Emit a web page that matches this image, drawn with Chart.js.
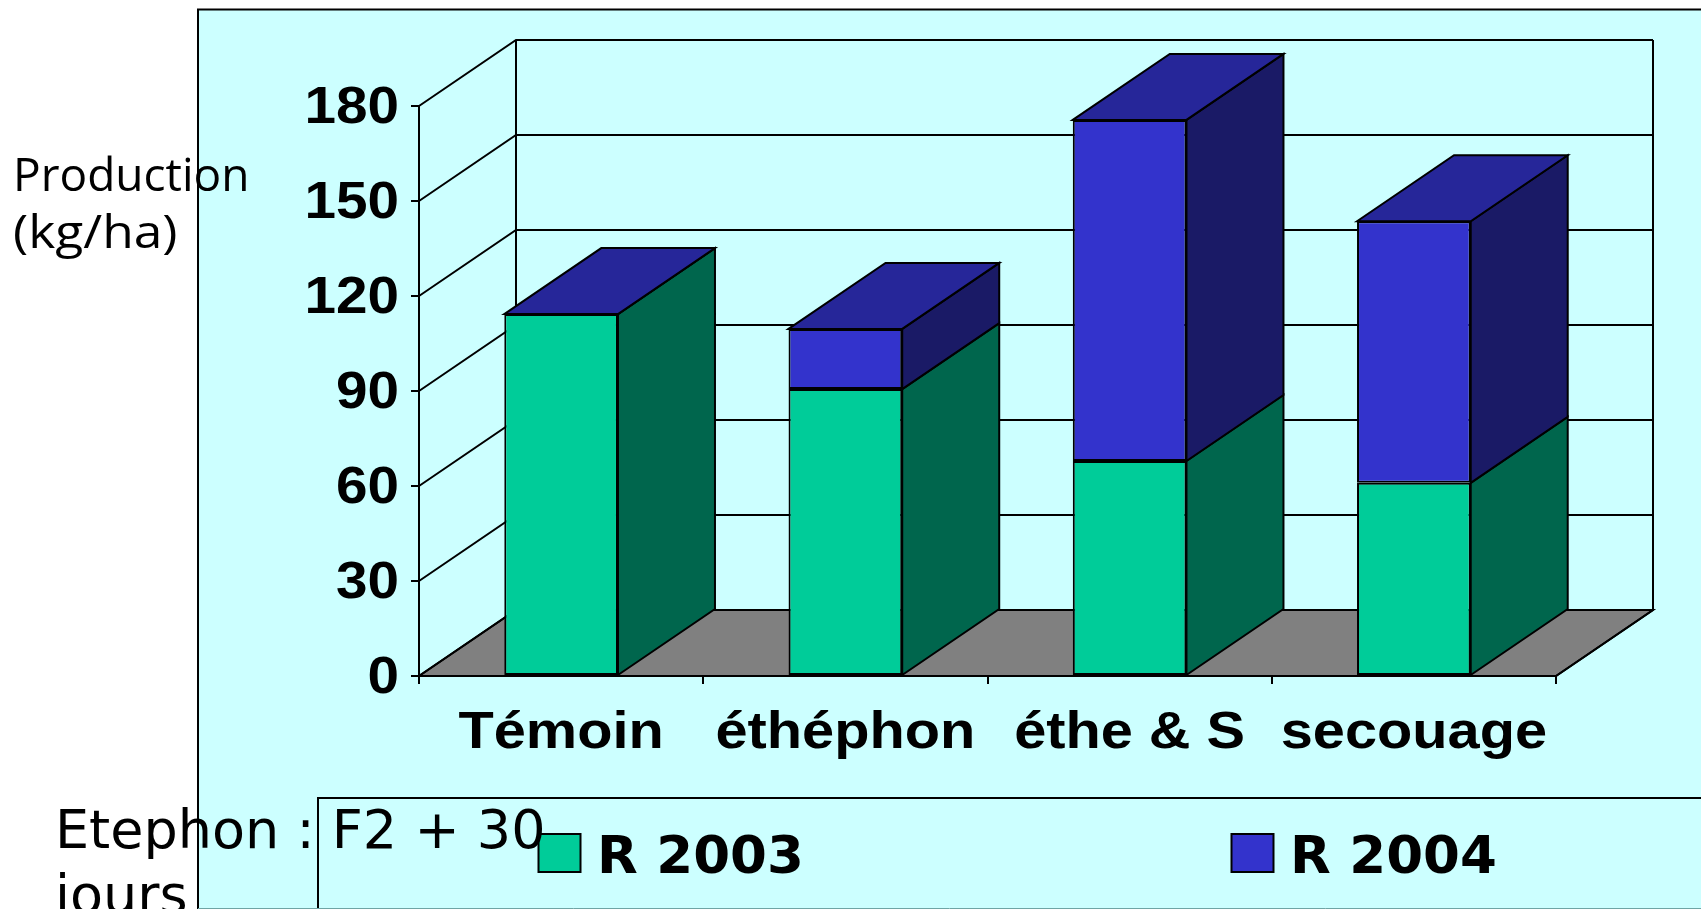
<!DOCTYPE html>
<html><head><meta charset="utf-8">
<style>html,body{margin:0;padding:0;background:#fff;overflow:hidden}canvas{display:block}</style>
<script src="https://cdn.jsdelivr.net/npm/chart.js@4"></script>
</head><body><canvas id="c" width="1701" height="909"></canvas>
<script>
const categories = ['Témoin', 'éthéphon', 'éthe & S', 'secouage'];
const r2003 = [114.3, 90.6, 67.9, 61];
const r2004 = [0, 19, 107.7, 82.6];
const yTicks = [0, 30, 60, 90, 120, 150, 180];
const seriesNames = ['R 2003', 'R 2004'];
const frontColors = ['#00CC99', '#3333CC'];
const sideColors = ['#00664D', '#1A1A66'];
const topColor = '#262699';
const DX = 97, DY = 66, LW = 2;
let stretch = 1.11;

const scene = {
  id: 'scene',
  beforeInit(chart) {
    const ctx = chart.ctx, orig = ctx.fillText;
    ctx.fillText = function (t, x, y) {
      const isY = this.textAlign === 'right';
      this.save(); this.translate(x, y + (isY ? 2.5 : 0)); this.scale(isY ? 1.09 : stretch, 1);
      orig.call(this, t, 0, 0); this.restore();
    };
  },
  beforeDraw(chart) {
    const c = chart.ctx;
    c.save();
    c.fillStyle = '#CCFFFF';
    c.fillRect(198, 9, 1503, 899);
    c.strokeStyle = '#000'; c.lineWidth = 2;
    c.beginPath(); c.moveTo(198, 909); c.lineTo(198, 9.5); c.lineTo(1701, 9.5); c.stroke();
    c.strokeStyle = '#6fa5a5'; c.lineWidth = 1;
    c.beginPath(); c.moveTo(198, 908.5); c.lineTo(1701, 908.5); c.stroke();
    c.strokeStyle = '#000'; c.lineWidth = 2;
    c.beginPath(); c.moveTo(318, 908); c.lineTo(318, 798); c.lineTo(1701, 798); c.stroke();
    // legend
    [[538.5, 834, 0, 597], [1231.5, 834, 1, 1290]].forEach(([sx, sy, i, tx]) => {
      c.fillStyle = frontColors[i];
      c.fillRect(sx, sy, 42, 38); c.strokeRect(sx, sy, 42, 38);
      c.fillStyle = '#000';
      c.font = 'bold 52px "DejaVu Sans"'; c.textAlign = 'left'; c.textBaseline = 'alphabetic';
      stretch = 1.02;
      c.fillText(seriesNames[i], tx, 873);
    });
    stretch = 1.11;
    c.restore();
  },
  beforeDatasetsDraw(chart) {
    const c = chart.ctx, y = chart.scales.y, a = chart.chartArea;
    c.save();
    c.strokeStyle = '#000'; c.lineWidth = LW; c.lineJoin = 'miter';
    const y0 = y.getPixelForValue(0);
    // floor
    c.fillStyle = '#808080';
    c.beginPath(); c.moveTo(a.left, y0); c.lineTo(a.right, y0); c.lineTo(a.right + DX, y0 - DY); c.lineTo(a.left + DX, y0 - DY); c.closePath();
    c.fill(); c.stroke();
    // walls and gridlines
    yTicks.forEach(v => {
      const p = y.getPixelForValue(v);
      c.beginPath(); c.moveTo(a.left, p); c.lineTo(a.left + DX, p - DY); c.lineTo(a.right + DX, p - DY); c.stroke();
    });
    const top = y.getPixelForValue(180);
    c.beginPath(); c.moveTo(a.left + DX, top - DY); c.lineTo(a.left + DX, y0 - DY); c.stroke();
    c.beginPath(); c.moveTo(a.right + DX, top - DY); c.lineTo(a.right + DX, y0 - DY); c.lineTo(a.right, y0); c.stroke();
    // bar sides and caps
    const n = chart.data.datasets.length;
    categories.forEach((_, i) => {
      for (let d = 0; d < n; d++) {
        const b = chart.getDatasetMeta(d).data[i];
        const R = b.x + b.width / 2, L = b.x - b.width / 2;
        c.fillStyle = sideColors[d];
        c.beginPath(); c.moveTo(R, b.base); c.lineTo(R + DX, b.base - DY); c.lineTo(R + DX, b.y - DY); c.lineTo(R, b.y); c.closePath();
        c.fill(); c.stroke();
        if (d === n - 1) {
          c.fillStyle = topColor;
          c.beginPath(); c.moveTo(L, b.y); c.lineTo(L + DX, b.y - DY); c.lineTo(R + DX, b.y - DY); c.lineTo(R, b.y); c.closePath();
          c.fill(); c.stroke();
        }
      }
    });
    c.restore();
  },
  afterDraw(chart) {
    const c = chart.ctx;
    c.save();
    c.fillStyle = '#000'; c.textAlign = 'left'; c.textBaseline = 'alphabetic';
    stretch = 1;
    c.font = '54px "DejaVu Sans"';
    c.fillText('Etephon : F2 + 30', 55, 848);
    c.fillText('jours', 55, 913);
    c.font = '46px "Open Sans"';
    c.fillText('Production', 13, 191);
    stretch = 1.12;
    c.fillText('(kg/ha)', 13, 248);
    stretch = 1.11;
    c.restore();
  }
};

new Chart(document.getElementById('c'), {
  type: 'bar',
  data: {
    labels: categories,
    datasets: [
      { label: seriesNames[0], data: r2003, backgroundColor: frontColors[0] },
      { label: seriesNames[1], data: r2004, backgroundColor: frontColors[1] }
    ].map(d => ({ ...d, borderColor: '#000', borderWidth: LW, borderSkipped: false, categoryPercentage: 1, barPercentage: 0.4 }))
  },
  plugins: [scene],
  options: {
    responsive: false,
    animation: false,
    layout: { padding: { left: 0, right: 145, top: 106, bottom: 0 } },
    plugins: { legend: { display: false }, tooltip: { enabled: false }, title: { display: false } },
    scales: {
      x: {
        stacked: true,
        afterFit(s) { s.height = 233; },
        grid: { drawOnChartArea: false, drawTicks: true, tickLength: 8, color: '#000', lineWidth: LW },
        border: { display: true, color: '#000', width: LW },
        ticks: { color: '#000', padding: 18, maxRotation: 0, autoSkip: false, font: { family: '"Liberation Sans"', weight: 'bold', size: 52 } }
      },
      y: {
        stacked: true, min: 0, max: 180,
        afterBuildTicks(s) { s.ticks = yTicks.map(v => ({ value: v })); },
        afterFit(s) { s.width = 419; },
        grid: { drawOnChartArea: false, drawTicks: true, tickLength: 8, color: '#000', lineWidth: LW },
        border: { display: true, color: '#000', width: LW },
        ticks: { color: '#000', padding: 12, font: { family: '"Liberation Sans"', weight: 'bold', size: 52 } }
      }
    }
  }
});
</script></body></html>
